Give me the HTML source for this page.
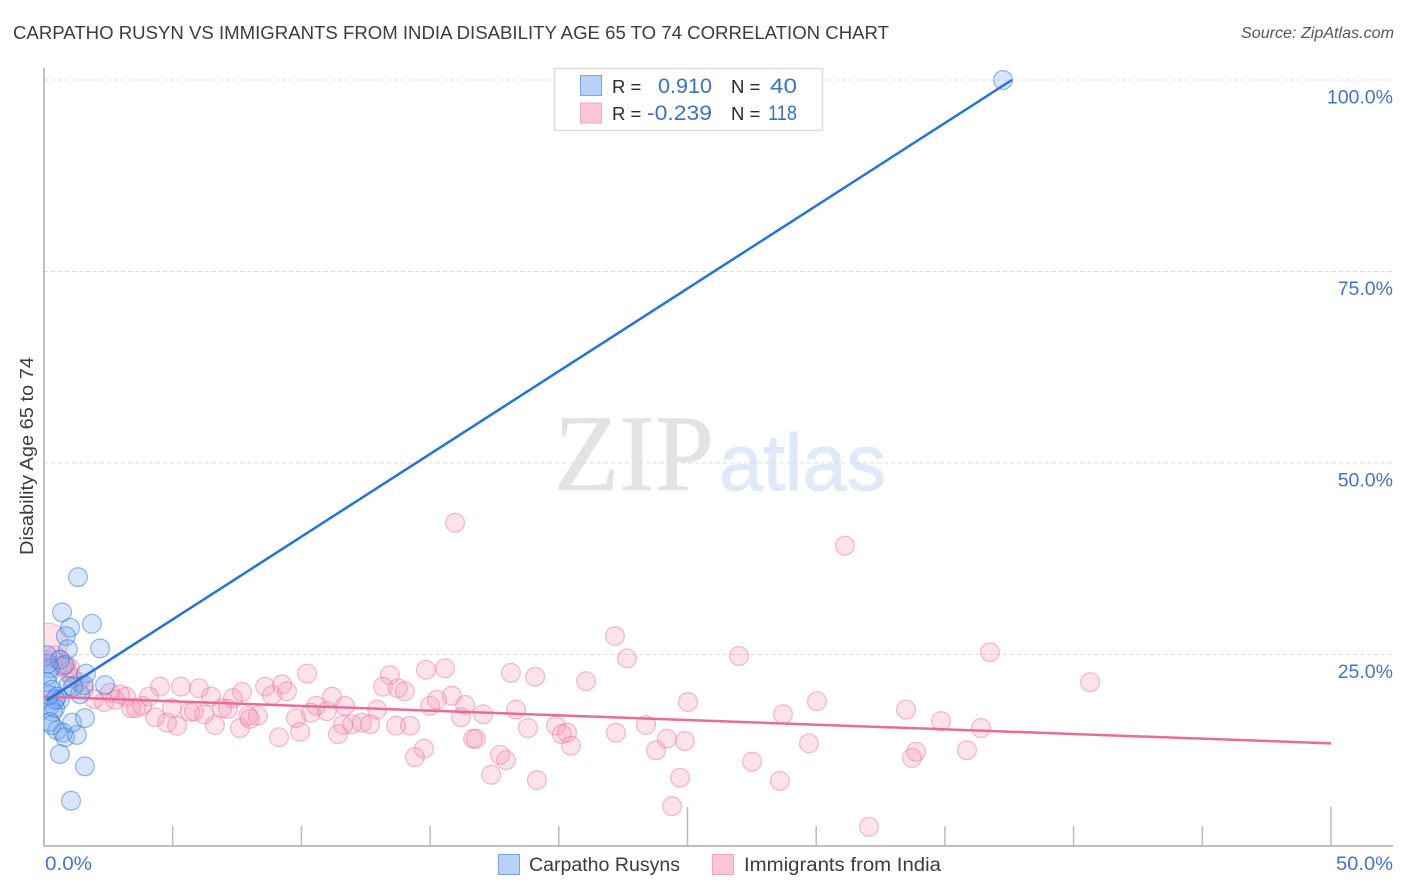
<!DOCTYPE html>
<html lang="en">
<head>
<meta charset="utf-8">
<title>Carpatho Rusyn vs Immigrants from India Disability Age 65 to 74 Correlation Chart</title>
<style>
html,body{margin:0;padding:0;background:#fff}
svg{display:block}
text{font-family:"Liberation Sans",sans-serif}
</style>
</head>
<body>
<svg id="chart" xmlns="http://www.w3.org/2000/svg" width="1406" height="892" viewBox="0 0 1406 892">
  <defs><clipPath id="plot-clip"><rect x="44" y="60" width="1350" height="786"/></clipPath></defs>
  <text x="13" y="39" font-size="18.5" fill="#3c3c3c" textLength="876" lengthAdjust="spacingAndGlyphs">CARPATHO RUSYN VS IMMIGRANTS FROM INDIA DISABILITY AGE 65 TO 74 CORRELATION CHART</text>
  <text x="1394" y="38" font-size="15.5" font-style="italic" fill="#555" text-anchor="end" textLength="153" lengthAdjust="spacingAndGlyphs">Source: ZipAtlas.com</text>
  <text transform="translate(33,456) rotate(-90)" font-size="18" fill="#3c3c3c" text-anchor="middle" textLength="198" lengthAdjust="spacingAndGlyphs">Disability Age 65 to 74</text>
  <g>
    <text x="554" y="490" style="font-family:'Liberation Serif',serif" font-size="109" fill="#e3e3e3" stroke="#e3e3e3" stroke-width="0.6" textLength="160" lengthAdjust="spacingAndGlyphs">ZIP</text>
    <text x="719" y="490" font-size="80" fill="#dfe9f8" stroke="#dfe9f8" stroke-width="1" textLength="167" lengthAdjust="spacingAndGlyphs">atlas</text>
  </g>
  <g id="grid"></g>
  <g id="axes"></g>
  <g id="pink-points" clip-path="url(#plot-clip)"></g>
  <g id="blue-points" clip-path="url(#plot-clip)"></g>
  <g id="trends"></g>
  <g>
    <rect x="554.5" y="68.5" width="268" height="62" fill="#fff" stroke="#ddd" stroke-width="1.5"/>
    <rect x="580.5" y="75.5" width="21" height="20" fill="#b7d2f8" stroke="#79a6ea"/>
    <rect x="580.5" y="103" width="21" height="20" fill="#fcc6d8" stroke="#f2a3bf"/>
    <text x="612" y="93" font-size="18.5" fill="#2a2a2a">R =</text>
    <text x="712" y="93" font-size="21" fill="#3a70cc" text-anchor="end" textLength="54" lengthAdjust="spacingAndGlyphs">0.910</text>
    <text x="731" y="93" font-size="18.5" fill="#2a2a2a">N =</text>
    <text x="797" y="93" font-size="21" fill="#3a70cc" text-anchor="end" textLength="27" lengthAdjust="spacingAndGlyphs">40</text>
    <text x="612" y="120" font-size="18.5" fill="#2a2a2a">R =</text>
    <text x="712" y="120" font-size="21" fill="#3a70cc" text-anchor="end" textLength="65" lengthAdjust="spacingAndGlyphs">-0.239</text>
    <text x="731" y="120" font-size="18.5" fill="#2a2a2a">N =</text>
    <text x="797" y="120" font-size="21" fill="#3a70cc" text-anchor="end" textLength="29" lengthAdjust="spacingAndGlyphs">118</text>
  </g>
  <g>
    <rect x="498.5" y="854.5" width="21" height="20" fill="#b7d2f8" stroke="#79a6ea"/>
    <text x="529" y="871" font-size="19" fill="#3c3c3c" textLength="151" lengthAdjust="spacingAndGlyphs">Carpatho Rusyns</text>
    <rect x="712.5" y="854.5" width="21" height="20" fill="#fcc6d8" stroke="#f2a3bf"/>
    <text x="744" y="871" font-size="19" fill="#3c3c3c" textLength="197" lengthAdjust="spacingAndGlyphs">Immigrants from India</text>
  </g>
</svg>
<script>
const yTicks = [25, 50, 75, 100];
const yTickLabels = ["25.0%", "50.0%", "75.0%", "100.0%"];
const xTicks = [0, 5, 10, 15, 20, 25, 30, 35, 40, 45, 50];
const xMajorTicks = [0, 25, 50];
const xEndLabels = ["0.0%", "50.0%"];

const blueX = [37.26,1.32,0.70,1.01,1.86,0.85,0.93,2.18,0.12,0.62,0.78,0.23,0.16,1.63,0.12,0.93,1.55,2.37,1.40,0.31,0.51,0.62,0.23,0.43,0.35,0.23,0.51,0.74,0.82,1.28,1.09,1.59,0.62,1.59,1.05,1.13,0.16,0.43,0.20,0.30];
const blueY = [100,35.1,30.5,28.5,29.0,27.4,25.7,25.8,24.9,24.3,23.6,23.2,22.3,22.5,21.4,20.9,21.0,21.0,19.8,20.4,19.5,19.1,18.3,18.0,17.5,16.2,15.1,14.8,14.2,14.5,16.1,16.7,12.0,10.4,5.9,20.8,23.8,19.1,19.7,15.8];

const pinkX = [15.97,31.12,22.18,22.65,27.0,36.75,40.64,14.84,15.58,18.14,19.08,21.06,10.22,13.44,13.17,13.75,14.02,4.51,5.32,6.02,6.49,7.69,7.34,8.59,9.25,8.86,9.44,11.19,10.57,9.79,10.37,10.99,11.69,12.94,11.97,11.62,12.35,12.67,13.68,14.22,11.42,9.95,9.13,7.61,6.64,7.15,7.93,8.31,8.0,6.92,6.22,5.67,5.83,4.97,5.17,4.31,4.78,4.08,3.81,3.38,3.57,3.19,2.95,2.76,2.56,2.33,1.94,1.55,1.36,1.09,0.93,1.01,0.62,0.12,0.43,15.0,15.27,15.85,16.36,16.2,17.06,18.34,18.8,19.89,20.32,20.12,20.47,22.22,23.39,23.78,24.2,24.9,25.02,24.71,24.4,27.51,28.59,29.72,28.71,30.03,33.49,34.85,36.4,35.86,33.88,33.72,32.05,19.15,17.37,17.95,17.72,16.67,16.78,14.76,14.41,0.85,0.70,0.15];
const pinkY = [42.2,39.2,27.4,24.5,24.8,25.3,21.4,23.0,23.2,22.6,22.1,21.5,22.5,22.3,20.8,20.6,20.2,20.8,20.8,20.6,19.5,20.1,19.3,20.8,21.1,19.7,20.2,19.5,18.3,16.7,17.4,17.6,18.3,17.8,15.9,15.8,16.1,15.9,15.7,15.7,14.6,14.9,14.2,15.4,15.8,17.9,17.0,17.0,16.6,18.0,17.2,17.5,17.6,18.0,15.7,16.8,16.1,19.5,18.3,18.0,18.0,19.5,19.8,19.1,20.0,18.8,19.2,20.5,21.4,21.9,22.7,23.2,24.3,24.3,24.9,18.3,19.1,19.6,18.4,16.8,17.2,17.8,15.4,15.7,14.8,14.6,13.1,14.8,15.8,12.5,14.0,13.7,18.8,8.9,5.2,11.0,8.5,13.4,17.2,18.9,17.8,16.3,15.4,12.5,12.3,11.5,2.5,8.6,9.3,11.2,11.9,14.0,14.0,12.7,11.6,23.7,23.4,26.5];
const pinkWeight = [1,1,1,1,1,1,1,1,1,1,1,1,1,1,1,1,1,1,1,1,1,1,1,1,1,1,1,1,1,1,1,1,1,1,1,1,1,1,1,1,1,1,1,1,1,1,1,1,1,1,1,1,1,1,1,1,1,1,1,1,1,1,1,1,1,1,1,1,1,1,1,1,1,1,1,1,1,1,1,1,1,1,1,1,1,1,1,1,1,1,1,1,1,1,1,1,1,1,1,1,1,1,1,1,1,1,1,1,1,1,1,1,1,1,1,1,1,4.5];

const blueTrendX = [0.1, 37.6];
const blueTrendY = [19.0, 100];
const pinkTrendX = [0, 50];
const pinkTrendY = [19.5, 13.4];

const NS = "http://www.w3.org/2000/svg";
function xScale(v) { return 44 + v * 25.74; }
function yScale(v) { return 846 - v * 7.66; }
function make(parent, tag, attrs) {
  const el = document.createElementNS(NS, tag);
  for (const k in attrs) el.setAttribute(k, attrs[k]);
  parent.appendChild(el);
  return el;
}

const grid = document.getElementById("grid");
const axes = document.getElementById("axes");

yTicks.forEach(function (t, i) {
  const line = make(grid, "line", {x1: 44, x2: 1393, y1: yScale(t), y2: yScale(t), stroke: "#dcdcdc", "stroke-width": 1, "stroke-dasharray": "4 3"});
  
  
  const label = make(axes, "text", {x: 1393, y: yScale(t) + 23.5, "font-size": 19.5, fill: "#3f74cf", "text-anchor": "end"});
  
  
  label.textContent = yTickLabels[i];
});

const yAxis = make(axes, "line", {x1: 44, x2: 44, y1: 68, y2: 846, stroke: "#aaa", "stroke-width": 1.5});


const xAxis = make(axes, "line", {x1: 44, x2: 1393, y1: 846, y2: 846, stroke: "#aaa", "stroke-width": 1.5});



xTicks.forEach(function (t) {
  if (t === 0) return;
  const major = xMajorTicks.indexOf(t) >= 0;
  const tick = make(axes, "line", {x1: xScale(t), x2: xScale(t), y1: major ? 807 : 826, y2: 846, stroke: "#bbb", "stroke-width": 1.5});
  
  
});

const xLabelLeft = make(axes, "text", {x: 45, y: 870, "font-size": 19.5, fill: "#3f74cf", textLength: 47, lengthAdjust: "spacingAndGlyphs"});


xLabelLeft.textContent = xEndLabels[0];
const xLabelRight = make(axes, "text", {x: 1393, y: 870, "font-size": 19.5, fill: "#3f74cf", "text-anchor": "end", textLength: 57, lengthAdjust: "spacingAndGlyphs"});


xLabelRight.textContent = xEndLabels[1];

const pinkGroup = document.getElementById("pink-points");
pinkX.forEach(function (v, i) {
  const c = make(pinkGroup, "circle", {cx: xScale(v), cy: yScale(pinkY[i]), r: 9.4 * Math.sqrt(pinkWeight[i]), fill: "rgba(246,150,182,0.28)", stroke: "rgba(236,120,160,0.5)", "stroke-width": 1.2});
  
  
});

const blueGroup = document.getElementById("blue-points");
blueX.forEach(function (v, i) {
  const c = make(blueGroup, "circle", {cx: xScale(v), cy: yScale(blueY[i]), r: 9.4, fill: "rgba(110,165,240,0.28)", stroke: "rgba(50,115,215,0.5)", "stroke-width": 1.2});
  
  
});

const trends = document.getElementById("trends");
const pinkTrend = make(trends, "line", {x1: xScale(pinkTrendX[0]), y1: yScale(pinkTrendY[0]), x2: xScale(pinkTrendX[1]), y2: yScale(pinkTrendY[1]), stroke: "#ea6a9a", "stroke-width": 2.5});


const blueTrend = make(trends, "line", {x1: xScale(blueTrendX[0]), y1: yScale(blueTrendY[0]), x2: xScale(blueTrendX[1]), y2: yScale(blueTrendY[1]), stroke: "#2473d8", "stroke-width": 2.5});


</script>
</body>
</html>
